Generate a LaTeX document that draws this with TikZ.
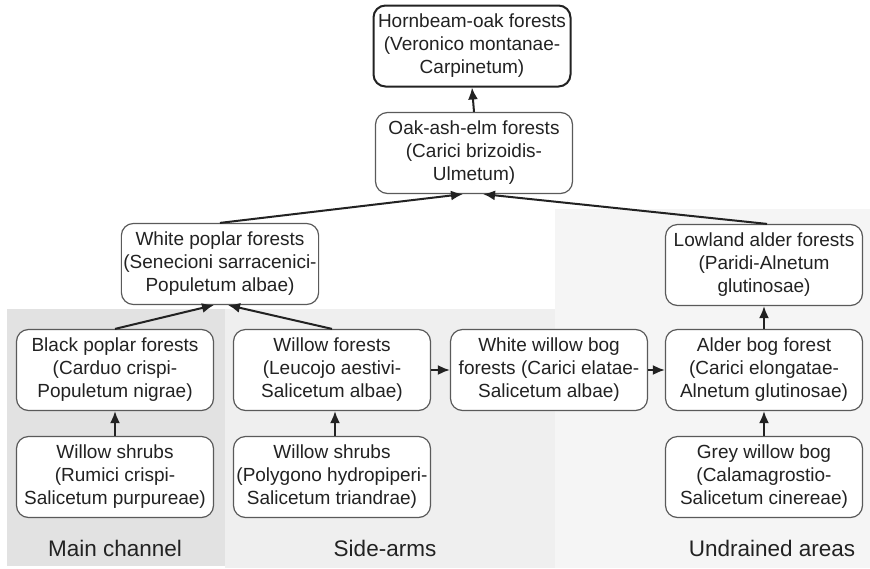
\documentclass[tikz,border=0pt]{standalone}
\usepackage{fontspec}
\setmainfont{Liberation Sans}
\usetikzlibrary{arrows.meta}
\definecolor{txt}{HTML}{222222}
\definecolor{frame}{HTML}{5A5A5A}
\definecolor{zoneA}{HTML}{E2E2E2}
\definecolor{zoneB}{HTML}{EFEFEF}
\definecolor{zoneC}{HTML}{F5F5F5}
\begin{document}
\begin{tikzpicture}[x=1pt,y=-1pt,
  community/.style={draw=frame, line width=1.2pt, fill=white, rounded corners=12pt,
    minimum width=197pt, minimum height=81pt, align=center, inner sep=2pt,
    text=txt, font=\fontsize{19}{23}\selectfont},
  climax/.style={community, draw=txt, line width=2pt},
  zonelabel/.style={text=txt, font=\fontsize{22.5}{26}\selectfont, inner sep=0pt},
  succ/.style={-{Latex[length=12pt,width=10pt]}, line width=2pt, draw=txt}]
\useasboundingbox (0,0) rectangle (870,568);
\fill[white] (0,0) rectangle (870,568);
% habitat zones
\fill[zoneA] (7,309) rectangle (225,566);
\fill[zoneB] (225,309) rectangle (555,568);
\fill[zoneC] (555,209) rectangle (870,568);

% communities
\node[climax] (hornbeam) at (472,46) {Hornbeam-oak forests\\(Veronico montanae-\\Carpinetum)};
\node[community] (oak) at (474,153) {Oak-ash-elm forests\\(Carici brizoidis-\\Ulmetum)};
\node[community] (wpoplar) at (220,264) {White poplar forests\\(Senecioni sarracenici-\\Populetum albae)};
\node[community] (lalder) at (764,265) {Lowland alder forests\\(Paridi-Alnetum\\glutinosae)};
\node[community] (bpoplar) at (115,370) {Black poplar forests\\(Carduo crispi-\\Populetum nigrae)};
\node[community] (wforest) at (332,370) {Willow forests\\(Leucojo aestivi-\\Salicetum albae)};
\node[community] (wbog) at (549,370) {White willow bog\\forests (Carici elatae-\\Salicetum albae)};
\node[community] (abog) at (764,370) {Alder bog forest\\(Carici elongatae-\\Alnetum glutinosae)};
\node[community] (shrubA) at (115,477) {Willow shrubs\\(Rumici crispi-\\Salicetum purpureae)};
\node[community] (shrubB) at (332,477) {Willow shrubs\\(Polygono hydropiperi-\\Salicetum triandrae)};
\node[community] (gbog) at (764,477) {Grey willow bog\\(Calamagrostio-\\Salicetum cinereae)};

% zone labels
\node[zonelabel] (lblA) at (115,548) {Main channel};
\node[zonelabel] (lblB) at (385,548) {Side-arms};
\node[zonelabel] (lblC) at (772,548) {Undrained areas};

% succession
\draw[succ] (oak.north) -- (hornbeam.south);
\draw[succ] (wpoplar.north) -- ([xshift=-11pt]oak.south);
\draw[succ] ([xshift=3pt]lalder.north) -- ([xshift=9pt]oak.south);
\draw[succ] (bpoplar.north) -- ([xshift=-6pt]wpoplar.south);
\draw[succ] (wforest.north) -- ([xshift=8pt]wpoplar.south);
\draw[succ] (shrubA.north) -- (bpoplar.south);
\draw[succ] ([xshift=3pt]shrubB.north) -- ([xshift=3pt]wforest.south);
\draw[succ] (wforest.east) -- (wbog.west);
\draw[succ] (wbog.east) -- (abog.west);
\draw[succ] (abog.north) -- (lalder.south);
\draw[succ] (gbog.north) -- (abog.south);
\end{tikzpicture}
\end{document}
